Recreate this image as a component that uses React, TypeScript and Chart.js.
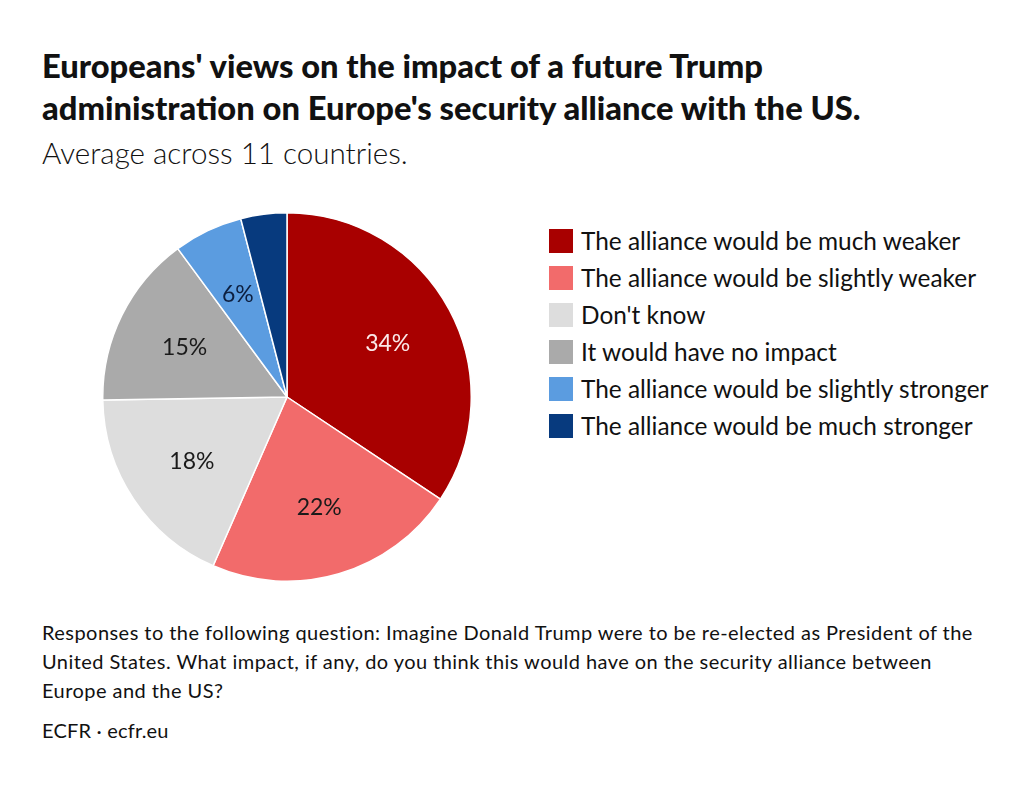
import React, { useEffect, useRef } from "react";
import { Chart, registerables } from "chart.js";

Chart.register(...registerables);

const categories = [
  "The alliance would be much weaker",
  "The alliance would be slightly weaker",
  "Don't know",
  "It would have no impact",
  "The alliance would be slightly stronger",
  "The alliance would be much stronger",
];
const values = [34, 22, 18, 15, 6, 4];
const sliceLabels = ["34%", "22%", "18%", "15%", "6%", ""];
const colors = ["#a80000", "#f26b6b", "#dddddd", "#aaaaaa", "#5b9ce0", "#073a7e"];
const labelColors = ["#fbe9e9", "#1a1a1a", "#1a1a1a", "#1a1a1a", "#0d1f3f", "#ffffff"];

const FONT = "Lato, 'Open Sans', sans-serif";

const sliceLabelPlugin = {
  id: "sliceLabels",
  afterDatasetsDraw(chart: any) {
    const ctx = chart.ctx;
    const meta = chart.getDatasetMeta(0);
    ctx.save();
    ctx.font = `400 23px ${FONT}`;
    ctx.textAlign = "center";
    ctx.textBaseline = "middle";
    meta.data.forEach((arc: any, i: number) => {
      const text = sliceLabels[i];
      if (!text) return;
      const mid = (arc.startAngle + arc.endAngle) / 2;
      const r = arc.outerRadius * 0.62;
      ctx.fillStyle = labelColors[i];
      ctx.fillText(text, arc.x + Math.cos(mid) * r, arc.y + Math.sin(mid) * r + 1);
    });
    ctx.restore();
  },
};

export default function App() {
  const canvasRef = useRef<HTMLCanvasElement | null>(null);

  useEffect(() => {
    if (!canvasRef.current) return;
    const chart = new Chart(canvasRef.current, {
      type: "pie",
      data: {
        labels: categories,
        datasets: [
          {
            data: values,
            backgroundColor: colors,
            borderColor: "#ffffff",
            borderWidth: 1.5,
          },
        ],
      },
      options: {
        responsive: false,
        animation: false,
        maintainAspectRatio: false,
        layout: { padding: 0 },
        plugins: {
          legend: { display: false },
          tooltip: { enabled: false },
        },
      },
      plugins: [sliceLabelPlugin],
    });
    return () => chart.destroy();
  }, []);

  return (
    <div
      style={{
        position: "absolute",
        left: 0,
        top: 0,
        width: 1024,
        height: 786,
        background: "#ffffff",
        fontFamily: FONT,
        color: "#111",
        overflow: "hidden",
      }}
    >
      <div
        style={{
          position: "absolute",
          left: 42,
          top: 45,
          fontSize: 32.7,
          fontWeight: 900,
          lineHeight: "42px",
          width: 960,
          whiteSpace: "nowrap",
        }}
      >
        Europeans' views on the impact of a future Trump
        <br />
        administration on Europe's security alliance with the US.
      </div>
      <div
        style={{
          position: "absolute",
          left: 42,
          top: 135,
          fontSize: 29.6,
          fontWeight: 300,
          lineHeight: "36px",
          whiteSpace: "nowrap",
        }}
      >
        Average across 11 countries.
      </div>

      <canvas
        ref={canvasRef}
        width={370}
        height={370}
        style={{ position: "absolute", left: 102, top: 212, width: 370, height: 370 }}
      />

      <div style={{ position: "absolute", left: 549, top: 222 }}>
        {categories.map((c, i) => (
          <div
            key={c}
            style={{ display: "flex", alignItems: "center", height: 37, whiteSpace: "nowrap" }}
          >
            <div style={{ width: 24, height: 24, background: colors[i], marginRight: 8 }} />
            <span style={{ fontSize: 24.4, fontWeight: 400, color: "#111" }}>{c}</span>
          </div>
        ))}
      </div>

      <div
        style={{
          position: "absolute",
          left: 42,
          top: 618,
          width: 980,
          fontSize: 20,
          letterSpacing: "0.45px",
          lineHeight: "29px",
          color: "#111",
          whiteSpace: "nowrap",
        }}
      >
        Responses to the following question: Imagine Donald Trump were to be re-elected as President of the
        <br />
        United States. What impact, if any, do you think this would have on the security alliance between
        <br />
        Europe and the US?
      </div>
      <div
        style={{
          position: "absolute",
          left: 42,
          top: 716,
          fontSize: 20,
          letterSpacing: "0.2px",
          lineHeight: "29px",
          color: "#111",
          whiteSpace: "nowrap",
        }}
      >
        ECFR · ecfr.eu
      </div>
    </div>
  );
}
